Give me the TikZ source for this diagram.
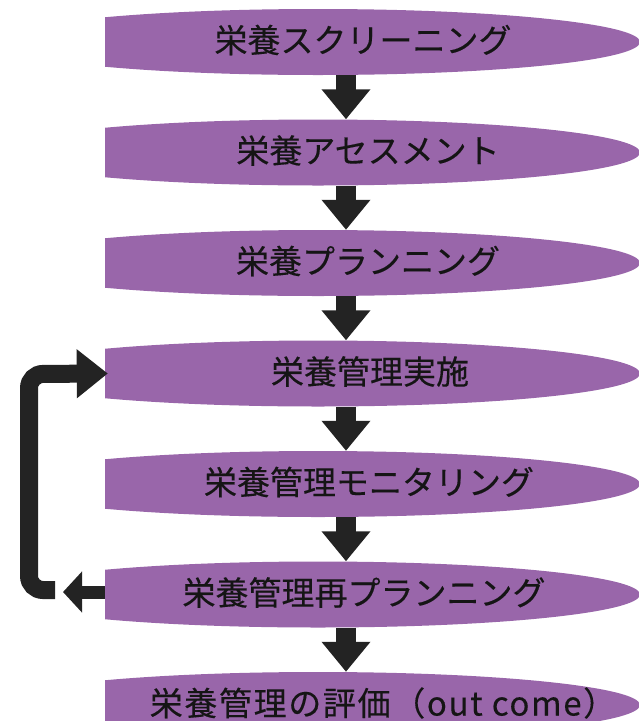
\documentclass[tikz,border=0pt]{standalone}
\usepackage{fontspec}
\newfontfamily\jp[FakeBold=0.3]{Noto Sans CJK JP}
\newfontfamily\jpwide[FakeBold=0.3,LetterSpace=5]{Noto Sans CJK JP}
\usetikzlibrary{arrows.meta}
\definecolor{boxfill}{HTML}{9966AA}
\definecolor{arrowcol}{HTML}{232323}
\definecolor{txt}{HTML}{151515}
\tikzset{
  stagebox/.style={rectangle, minimum width=534pt, minimum height=66pt, inner sep=0pt,
    path picture={\fill[boxfill] ([xshift=-54pt]path picture bounding box.center) ellipse [x radius=322pt, y radius=33pt];}},
  stagetext/.style={font=\jp\fontsize{33pt}{37pt}\selectfont, text=txt, yshift=2pt},
  widetext/.style={font=\jpwide\fontsize{33pt}{37pt}\selectfont, text=txt, yshift=2pt},
  downarrow/.style={draw=arrowcol, line width=20pt, -{Triangle[width=47pt,length=30pt]}},
  looparrow/.style={draw=arrowcol, line width=18pt, rounded corners=14pt, -{Triangle[width=47pt,length=31pt]}},
  backarrow/.style={draw=arrowcol, line width=13pt, -{Triangle[width=40pt,length=19pt]}},
}
\begin{document}
\begin{tikzpicture}[x=1pt,y=-1pt]
\useasboundingbox (0,0) rectangle (639,721);
\clip (0,0) rectangle (639,721);
\node[stagebox, label={[stagetext, xshift=-9pt]center:栄養スクリーニング}] (s1) at (372,42) {};
\node[stagebox, label={[stagetext, xshift=-4pt]center:栄養アセスメント}] (s2) at (372,152.5) {};
\node[stagebox, label={[stagetext, xshift=-4pt]center:栄養プランニング}] (s3) at (372,263) {};
\node[stagebox, label={[stagetext, xshift=-2pt]center:栄養管理実施}] (s4) at (372,373.5) {};
\node[stagebox, label={[stagetext, xshift=-3pt]center:栄養管理モニタリング}] (s5) at (372,484) {};
\node[stagebox, label={[stagetext, xshift=-8pt]center:栄養管理再プランニング}] (s6) at (372,594.5) {};
\node[stagebox, label={[widetext, xshift=11pt]center:栄養管理の評価（out come）}] (s7) at (372,705) {};
\foreach \a/\b in {s1/s2,s2/s3,s3/s4,s4/s5,s5/s6,s6/s7}
  \draw[downarrow] ([xshift=-26pt]\a.south) -- ([xshift=-26pt]\b.north);
\coordinate (backtip) at (63,592);
\coordinate (loopstart) at (55,590);
\draw[backarrow] (s6.west |- backtip) -- (backtip);
\draw[looparrow] (loopstart) -- (29,590) -- (29,374) -- ([xshift=3pt]s4.west);
\end{tikzpicture}
\end{document}
